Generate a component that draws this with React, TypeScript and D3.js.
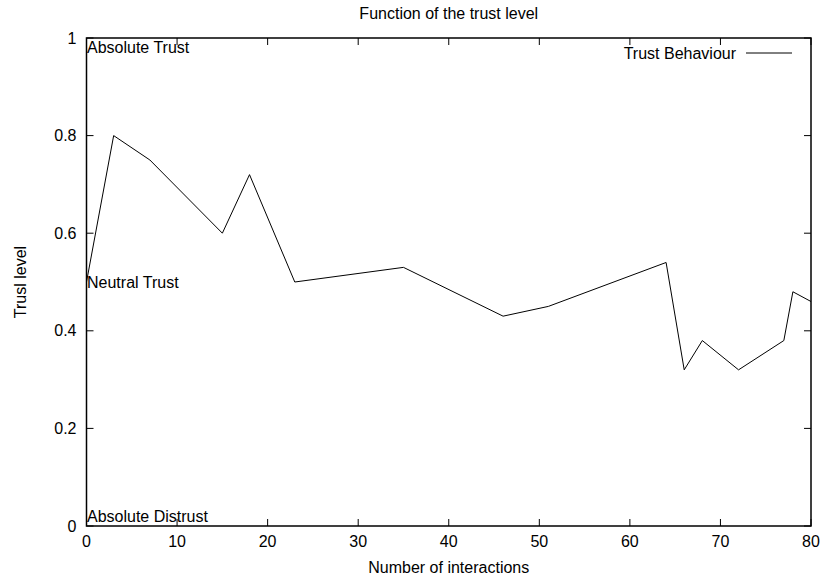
import React, { useEffect, useRef } from 'react';
import * as d3 from 'd3';

const interactions = [0, 3, 7, 15, 18, 23, 35, 46, 51, 64, 66, 68, 72, 77, 78, 80];
const trustLevel = [0.5, 0.8, 0.75, 0.6, 0.72, 0.5, 0.53, 0.43, 0.45, 0.54, 0.32, 0.38, 0.32, 0.38, 0.48, 0.46];
const xTicks = [0, 10, 20, 30, 40, 50, 60, 70, 80];
const yTicks = [0, 0.2, 0.4, 0.6, 0.8, 1];
const noteText = ['Absolute Trust', 'Neutral Trust', 'Absolute Distrust'];
const noteLevel = [0.98, 0.5, 0.02];

const W = 823;
const H = 579;
const FONT = 'Liberation Sans, Arial, sans-serif';

const App = () => {
  const svgRef = useRef<SVGSVGElement>(null);

  useEffect(() => {
    document.body.style.margin = '0';
    const svg = d3.select(svgRef.current);
    svg.selectAll('*').remove();

    const left = 86.5, right = 811, top = 38, bottom = 526;
    const x = d3.scaleLinear().domain([0, 80]).range([left, right]);
    const y = d3.scaleLinear().domain([0, 1]).range([bottom, top]);
    const tick = 7;

    const g = svg.append('g').attr('font-family', FONT).attr('font-size', 16).attr('fill', '#000');

    // ticks, mirrored on all sides like gnuplot
    xTicks.forEach(t => {
      g.append('line').attr('x1', x(t)).attr('x2', x(t)).attr('y1', bottom).attr('y2', bottom - tick)
        .attr('stroke', '#000');
      g.append('line').attr('x1', x(t)).attr('x2', x(t)).attr('y1', top).attr('y2', top + tick)
        .attr('stroke', '#000');
      g.append('text').attr('x', x(t)).attr('y', bottom + 15).attr('text-anchor', 'middle')
        .attr('dominant-baseline', 'central').text(t);
    });
    yTicks.forEach(t => {
      g.append('line').attr('x1', left).attr('x2', left + tick).attr('y1', y(t)).attr('y2', y(t))
        .attr('stroke', '#000');
      g.append('line').attr('x1', right).attr('x2', right - tick).attr('y1', y(t)).attr('y2', y(t))
        .attr('stroke', '#000');
      g.append('text').attr('x', left - 10).attr('y', y(t)).attr('text-anchor', 'end')
        .attr('dominant-baseline', 'central').text(t);
    });

    g.append('rect').attr('x', left).attr('y', top).attr('width', right - left).attr('height', bottom - top)
      .attr('fill', 'none').attr('stroke', '#000').attr('stroke-width', 1.5);

    const pts: [number, number][] = interactions.map((v, i) => [v, trustLevel[i]]);
    const line = d3.line<[number, number]>().x(d => x(d[0])).y(d => y(d[1]));
    g.append('path').attr('d', line(pts)).attr('fill', 'none').attr('stroke', '#000').attr('stroke-width', 1);

    noteText.forEach((s, i) => {
      g.append('text').attr('x', x(0) + 0.5).attr('y', y(noteLevel[i])).attr('dominant-baseline', 'central').text(s);
    });

    // legend
    g.append('text').attr('x', 736).attr('y', 53).attr('text-anchor', 'end').attr('dominant-baseline', 'central')
      .text('Trust Behaviour');
    g.append('line').attr('x1', 746).attr('x2', 792).attr('y1', 53).attr('y2', 53).attr('stroke', '#000');

    g.append('text').attr('x', (left + right) / 2).attr('y', 13).attr('text-anchor', 'middle')
      .attr('dominant-baseline', 'central').text('Function of the trust level');
    g.append('text').attr('x', (left + right) / 2).attr('y', 567).attr('text-anchor', 'middle')
      .attr('dominant-baseline', 'central').text('Number of interactions');
    g.append('text').attr('transform', `translate(20,${(top + bottom) / 2}) rotate(-90)`)
      .attr('text-anchor', 'middle').attr('dominant-baseline', 'central').text('Trusl level');
  }, []);

  return <svg ref={svgRef} width={W} height={H} style={{ display: 'block', background: '#fff' }}></svg>;
};

export default App;
